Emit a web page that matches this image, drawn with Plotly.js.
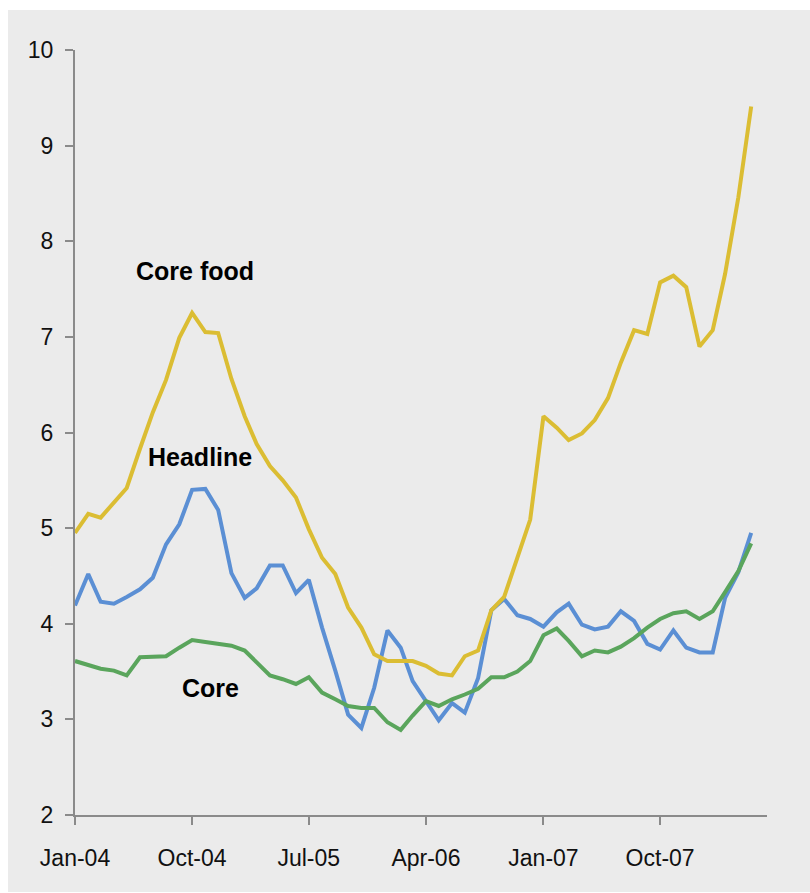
<!DOCTYPE html>
<html>
<head>
<meta charset="utf-8">
<script src="https://cdn.plot.ly/plotly-3.0.1.min.js"></script>
<style>
  html, body { margin: 0; padding: 0; background: #ffffff; }
  #chart { position: absolute; left: 8px; top: 10px; width: 802px; height: 882px; }
</style>
</head>
<body>
<div id="chart"></div>
<script>
// Monthly data, Jan-04 .. May-08
const startYear = 2004;
const nMonths = 53;

const coreFood = [4.95, 5.15, 5.11, 5.26, 5.42, 5.83, 6.21, 6.55, 6.99, 7.25,
  7.05, 7.04, 6.56, 6.17, 5.88, 5.65, 5.50, 5.32, 4.99, 4.69,
  4.52, 4.17, 3.96, 3.68, 3.61, 3.61, 3.61, 3.56, 3.48, 3.46,
  3.66, 3.72, 4.14, 4.28, 4.69, 5.09, 6.17, 6.05, 5.92, 5.99,
  6.13, 6.36, 6.73, 7.07, 7.03, 7.57, 7.64, 7.52, 6.90, 7.07,
  7.66, 8.46, 9.41];

const headline = [4.19, 4.52, 4.23, 4.21, 4.28, 4.36, 4.48, 4.83, 5.04, 5.40,
  5.41, 5.19, 4.53, 4.27, 4.37, 4.61, 4.61, 4.32, 4.46, 3.96,
  3.51, 3.05, 2.91, 3.33, 3.93, 3.75, 3.40, 3.19, 2.99, 3.17,
  3.07, 3.43, 4.14, 4.26, 4.09, 4.05, 3.97, 4.12, 4.21, 3.99,
  3.94, 3.97, 4.13, 4.03, 3.79, 3.73, 3.93, 3.75, 3.70, 3.70,
  4.27, 4.54, 4.95];

const core = [3.61, 3.57, 3.53, 3.51, 3.46, 3.65, 3.66, 3.66, 3.75, 3.83,
  3.81, 3.79, 3.77, 3.72, 3.60, 3.46, 3.42, 3.37, 3.44, 3.28,
  3.21, 3.14, 3.12, 3.12, 2.97, 2.89, 3.04, 3.19, 3.14, 3.21,
  3.26, 3.32, 3.44, 3.44, 3.50, 3.61, 3.88, 3.95, 3.82, 3.66,
  3.72, 3.70, 3.76, 3.85, 3.96, 4.05, 4.11, 4.13, 4.05, 4.13,
  4.33, 4.55, 4.84];

const tickDates = ['2004-01-01', '2004-10-01', '2005-07-01', '2006-04-01', '2007-01-01', '2007-10-01'];
const tickLabels = ['Jan-04', 'Oct-04', 'Jul-05', 'Apr-06', 'Jan-07', 'Oct-07'];

const seriesNames = ['Headline', 'Core food', 'Core'];
const seriesColors = ['#5b8fd4', '#dbbd33', '#5aa55c'];

// build month dates
const months = [];
for (let i = 0; i < nMonths; i++) {
  const y = startYear + Math.floor(i / 12);
  const m = (i % 12) + 1;
  months.push(y + '-' + (m < 10 ? '0' + m : m) + '-01');
}

const seriesValues = [headline, coreFood, core];
const traces = seriesValues.map((vals, k) => ({
  x: months,
  y: vals,
  type: 'scatter',
  mode: 'lines',
  name: seriesNames[k],
  line: { color: seriesColors[k], width: 4 },
  hoverinfo: 'skip'
}));

const bg = '#ebebeb';
const axisColor = '#8a8a8a';
const textFont = { family: 'Liberation Sans, Arial, sans-serif', size: 23, color: '#111111' };
const labelFont = { family: 'Liberation Sans, Arial, sans-serif', size: 25, color: '#000000', weight: 'bold' };

const layout = {
  width: 802,
  height: 882,
  paper_bgcolor: bg,
  plot_bgcolor: bg,
  showlegend: false,
  margin: { l: 67, r: 43, t: 40, b: 77 },
  xaxis: {
    type: 'date',
    range: ['2004-01-01', '2008-06-07'],
    tickmode: 'array',
    tickvals: tickDates,
    ticktext: tickLabels,
    ticks: 'outside',
    ticklen: 8,
    tickwidth: 2,
    tickcolor: axisColor,
    showline: true,
    linecolor: axisColor,
    linewidth: 2,
    showgrid: false,
    zeroline: false,
    tickfont: textFont,
    ticklabelstandoff: 13,
    fixedrange: true
  },
  yaxis: {
    range: [2, 10],
    tickmode: 'linear',
    tick0: 2,
    dtick: 1,
    ticks: 'outside',
    ticklen: 8,
    tickwidth: 2,
    tickcolor: axisColor,
    showline: true,
    linecolor: axisColor,
    linewidth: 2,
    showgrid: false,
    zeroline: false,
    tickfont: textFont,
    ticklabelstandoff: 7,
    fixedrange: true
  },
  annotations: [
    { x: '2004-10-08', y: 7.69, xref: 'x', yref: 'y', text: 'Core food', showarrow: false, font: labelFont },
    { x: '2004-10-19', y: 5.74, xref: 'x', yref: 'y', text: 'Headline', showarrow: false, font: labelFont },
    { x: '2004-11-12', y: 3.33, xref: 'x', yref: 'y', text: 'Core', showarrow: false, font: labelFont }
  ]
};

Plotly.newPlot('chart', traces, layout, { displayModeBar: false, staticPlot: true });
</script>
</body>
</html>
